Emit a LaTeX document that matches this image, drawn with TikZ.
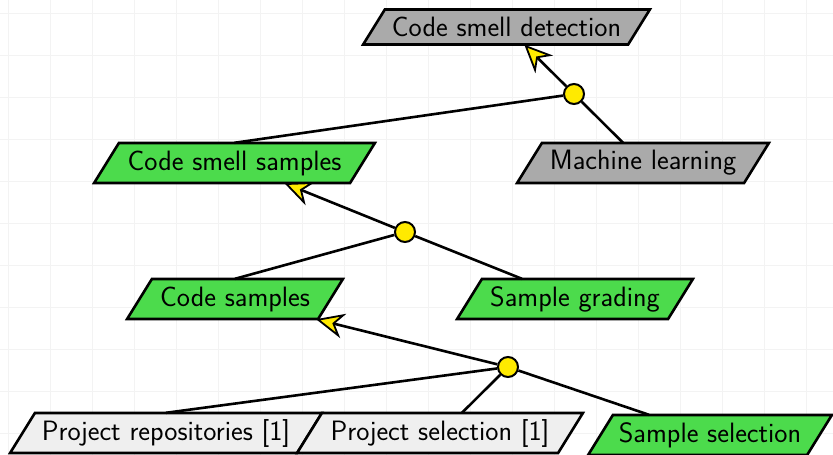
\documentclass[tikz,border=0pt]{standalone}
\usetikzlibrary{arrows.meta}
\definecolor{cgreen}{RGB}{76,219,76}
\definecolor{cgray}{RGB}{170,170,170}
\definecolor{clight}{RGB}{239,239,239}
\definecolor{cyel}{RGB}{255,234,0}
\definecolor{cgrid}{RGB}{243,243,243}
\tikzset{
  txt/.style={inner sep=0pt, font=\sffamily\fontsize{28}{32}\selectfont},
  ln/.style={line width=2.6pt},
  arr/.style={line width=2.6pt, -{Stealth[length=28pt,width=25pt,inset=9pt,fill=cyel,line width=1.8pt]}},
  junc/.style={circle, draw=black, fill=cyel, line width=2pt, minimum size=20pt, inner sep=0pt},
  gridline/.style={draw=cgrid, line width=0.8pt}
}
\newcommand\pgram[7]{%
  \pgfmathsetmacro\hs{0.31*#5}%
  \filldraw[fill=#6, draw=black, line width=2.6pt, line join=miter]
    (#2-#4/2-\hs, #3+#5/2) -- (#2+#4/2-\hs, #3+#5/2) --
    (#2+#4/2+\hs, #3-#5/2) -- (#2-#4/2+\hs, #3-#5/2) -- cycle;
  \node[txt, minimum width=#4pt, minimum height=#5pt] (#1) at (#2,#3) {#7};}
\begin{document}
\begin{tikzpicture}[x=1pt,y=-1pt]
\useasboundingbox (0,0) rectangle (833,455);
\clip (0,0) rectangle (833,455);
\fill[white] (0,0) rectangle (833,455);
\foreach \i in {0,...,19} {
  \draw[gridline] (8.3+42*\i,0) -- (8.3+42*\i,455);
}
\foreach \i in {0,...,10} {
  \draw[gridline] (0,13.5+42*\i) -- (833,13.5+42*\i);
}
% nodes
\pgram{csd}{506.5}{27}{265}{35}{cgray}{Code smell detection}
\pgram{css}{234.5}{163}{256}{40}{cgreen}{Code smell samples}
\pgram{ml}{643}{163}{227}{40}{cgray}{Machine learning}
\pgram{cs}{235}{299}{191}{40}{cgreen}{Code samples}
\pgram{sg}{575}{299}{211}{40}{cgreen}{Sample grading}
\pgram{pr}{166}{433}{287}{40}{clight}{Project repositories [1]}
\pgram{ps}{440}{433}{261}{40}{clight}{Project selection [1]}
\pgram{ss}{710}{435}{219}{40}{cgreen}{Sample selection}
% junctions
\node[junc] (j1) at (574,94) {};
\node[junc] (j2) at (405,232) {};
\node[junc] (j3) at (508,367) {};
% connectors
\draw[ln] (j1) -- (css.north);
\draw[ln] (j1) -- ([xshift=-20pt]ml.north);
\draw[arr] (j1) -- (csd);
\draw[ln] (j2) -- (cs.north);
\draw[ln] (j2) -- ([xshift=-53pt]sg.north);
\draw[arr] (j2) -- (css);
\draw[ln] (j3) -- (pr.north);
\draw[ln] (j3) -- ([xshift=22pt]ps.north);
\draw[ln] (j3) -- ([xshift=-61pt]ss.north);
\draw[arr] (j3) -- (cs);
\end{tikzpicture}
\end{document}
